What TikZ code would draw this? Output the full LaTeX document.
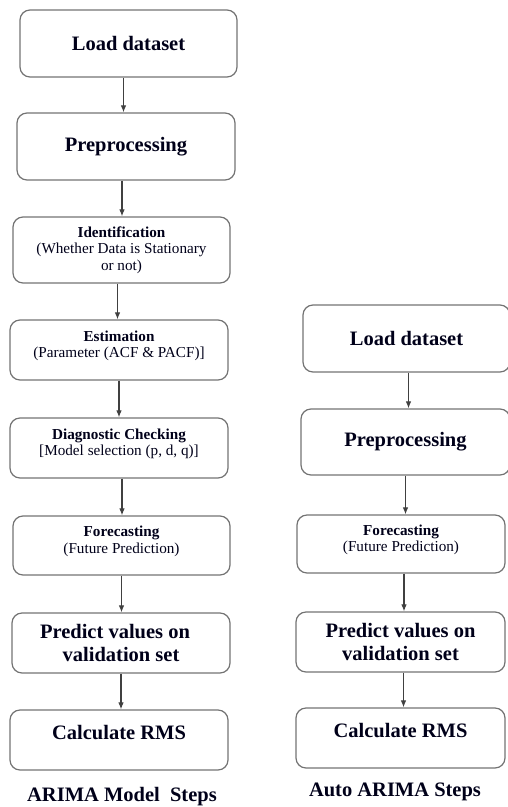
\documentclass[tikz,border=0pt]{standalone}
\usepackage{fontspec}
\setmainfont{Liberation Serif}
\usetikzlibrary{arrows.meta}

\begin{document}
\begin{tikzpicture}[x=1pt, y=-1pt,
	bigstep/.style={draw=black!55, line width=1.2pt, rounded corners=10pt, align=center, inner sep=0pt, text=black!90!blue, font=\fontsize{20.5}{23.5}\selectfont\bfseries},
	smallstep/.style={draw=black!55, line width=1.2pt, rounded corners=10pt, align=center, inner sep=0pt, text=black!90!blue, font=\fontsize{15.2}{16.5}\selectfont},
	flow/.style={-{Latex[length=7pt, width=5.5pt]}, line width=1.1pt, black!75},
	caption/.style={text=black!90!blue, font=\fontsize{20.5}{23.5}\selectfont\bfseries}]
	\useasboundingbox (0,0) rectangle (507,807);

	% ARIMA model
	\node[bigstep, minimum width=217pt, minimum height=67pt] (load) at (128.5, 43.5) {Load dataset};
	\node[bigstep, minimum width=218pt, minimum height=67pt] (prep) at (126, 146.5) {Preprocessing};
	\node[smallstep, minimum width=217pt, minimum height=66pt] (ident) at (121.5, 250) {\textbf{Identification}\\(Whether Data is Stationary\\or not)};
	\node[smallstep, minimum width=218pt, minimum height=60pt, text depth=12pt] (estim) at (119, 350) {\textbf{Estimation}\\(Parameter (ACF \& PACF)]};
	\node[smallstep, minimum width=218pt, minimum height=60pt, text depth=12pt] (diag) at (119, 448) {\textbf{Diagnostic Checking}\\{[}Model selection (p, d, q)]};
	\node[smallstep, minimum width=217pt, minimum height=59pt, text depth=12pt] (fore) at (121.5, 545.5) {\textbf{Forecasting}\\(Future Prediction)};
	\node[bigstep, minimum width=218pt, minimum height=60pt] (pred) at (121, 643) {Predict values on\hspace*{12pt}\\validation set};
	\node[bigstep, minimum width=218pt, minimum height=60pt, text depth=16pt] (rms) at (119, 740) {Calculate RMS};
	\node[caption] (arima) at (122, 797) {ARIMA Model\ \ Steps};

	\draw[flow] ([xshift=-5pt]load.south) -- ([xshift=-5pt]load.south |- prep.north);
	\draw[flow] ([xshift=-4pt]prep.south) -- ([xshift=-4pt]prep.south |- ident.north);
	\draw[flow] ([xshift=-4pt]ident.south) -- ([xshift=-4pt]ident.south |- estim.north);
	\draw[flow] (estim.south) -- (estim.south |- diag.north);
	\draw[flow] ([xshift=3pt]diag.south) -- ([xshift=3pt]diag.south |- fore.north);
	\draw[flow] (fore.south) -- (fore.south |- pred.north);
	\draw[flow] (pred.south) -- (pred.south |- rms.north);

	% Auto ARIMA
	\node[bigstep, minimum width=207pt, minimum height=67pt] (a-load) at (406.5, 338.5) {Load dataset};
	\node[bigstep, minimum width=209pt, minimum height=66pt] (a-prep) at (405.5, 442) {Preprocessing};
	\node[smallstep, minimum width=208pt, minimum height=58pt, text depth=12pt] (a-fore) at (401, 544) {\textbf{Forecasting}\\(Future Prediction)};
	\node[bigstep, minimum width=209pt, minimum height=60pt] (a-pred) at (400.5, 642) {Predict values on\\validation set};
	\node[bigstep, minimum width=209pt, minimum height=60pt, text depth=16pt] (a-rms) at (400.5, 738) {Calculate RMS};
	\node[caption] (auto) at (395, 792) {Auto ARIMA Steps};

	\draw[flow] ([xshift=2pt]a-load.south) -- ([xshift=2pt]a-load.south |- a-prep.north);
	\draw[flow] (a-prep.south) -- (a-prep.south |- a-fore.north);
	\draw[flow] ([xshift=3pt]a-fore.south) -- ([xshift=3pt]a-fore.south |- a-pred.north);
	\draw[flow] ([xshift=3pt]a-pred.south) -- ([xshift=3pt]a-pred.south |- a-rms.north);
\end{tikzpicture}
\end{document}
